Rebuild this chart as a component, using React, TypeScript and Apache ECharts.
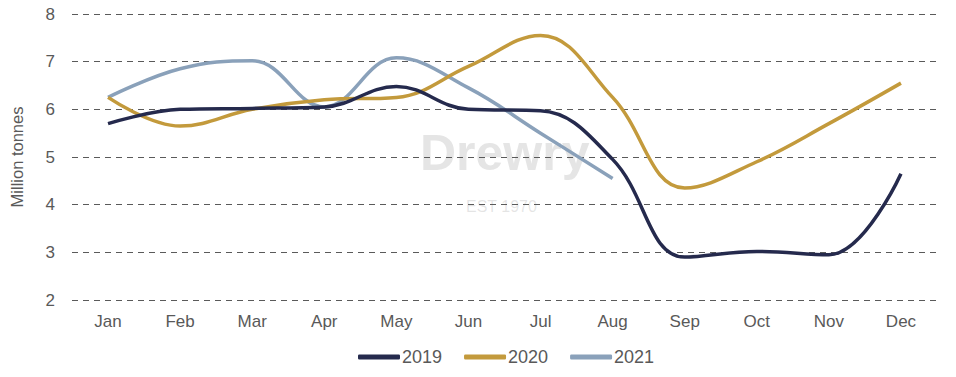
import React, { useEffect, useRef } from "react";
import * as echarts from "echarts";

const months = ["Jan", "Feb", "Mar", "Apr", "May", "Jun", "Jul", "Aug", "Sep", "Oct", "Nov", "Dec"];
const s2019 = [5.7, 6.0, 6.02, 6.05, 6.48, 6.0, 5.97, 4.95, 2.9, 3.02, 2.95, 4.65];
const s2020 = [6.25, 5.65, 6.0, 6.2, 6.25, 6.9, 7.55, 6.25, 4.35, 4.9, 5.7, 6.55];
const s2021 = [6.25, 6.85, 7.02, 6.05, 7.08, 6.45, 5.5, 4.55];
const seriesNames = ["2019", "2020", "2021"];
const colors = ["#252a4d", "#c39a3c", "#8aa1ba"];

export default function App() {
  const ref = useRef<HTMLDivElement>(null);
  useEffect(() => {
    const chart = echarts.init(ref.current!, null, { renderer: "svg" });
    const data = [s2019, s2020, s2021];
    const font = "Liberation Sans, Arial";
    chart.setOption({
      animation: false,
      backgroundColor: "#ffffff",
      grid: { left: 72, right: 19, top: 14, bottom: 77 },
      legend: {
        bottom: 6,
        left: 353,
        itemGap: 22,
        itemWidth: 42,
        itemHeight: 5,
        icon: "roundRect",
        textStyle: { color: "#595959", fontSize: 18, fontFamily: font, padding: [0, 0, 0, -3] },
        data: seriesNames,
      },
      xAxis: {
        type: "category",
        data: months,
        boundaryGap: true,
        axisLine: { show: false },
        axisTick: { show: false },
        axisLabel: { color: "#595959", fontSize: 17, fontFamily: font, margin: 13 },
      },
      yAxis: {
        type: "value",
        min: 2,
        max: 8,
        interval: 1,
        name: "Million tonnes",
        nameLocation: "middle",
        nameGap: 47,
        nameRotate: 90,
        nameTextStyle: { color: "#595959", fontSize: 16.5, fontFamily: font },
        axisLine: { show: false },
        axisTick: { show: false },
        axisLabel: { color: "#595959", fontSize: 17, fontFamily: font, margin: 17 },
        splitLine: { lineStyle: { color: "#5a5a5a", type: [6, 5], width: 1.2 } },
      },
      graphic: [
        {
          type: "text",
          left: 420,
          top: 128,
          z: 0,
          style: { text: "Drewry", fill: "rgba(150,150,150,0.25)", font: "bold 50px Liberation Sans, Arial" },
        },
        {
          type: "text",
          left: 466,
          top: 198,
          z: 0,
          style: { text: "EST 1970", fill: "rgba(150,150,150,0.25)", font: "16px Liberation Sans, Arial" },
        },
      ],
      series: seriesNames.map((n, i) => ({
        name: n,
        type: "line",
        data: data[i],
        smooth: 0.4,
        showSymbol: false,
        symbol: "none",
        z: 3 - i,
        lineStyle: { color: colors[i], width: 3.5 },
        itemStyle: { color: colors[i] },
      })),
    });
    return () => chart.dispose();
  }, []);
  return <div ref={ref} style={{ position: "fixed", left: 0, top: 0, width: 956, height: 377 }} />;
}
